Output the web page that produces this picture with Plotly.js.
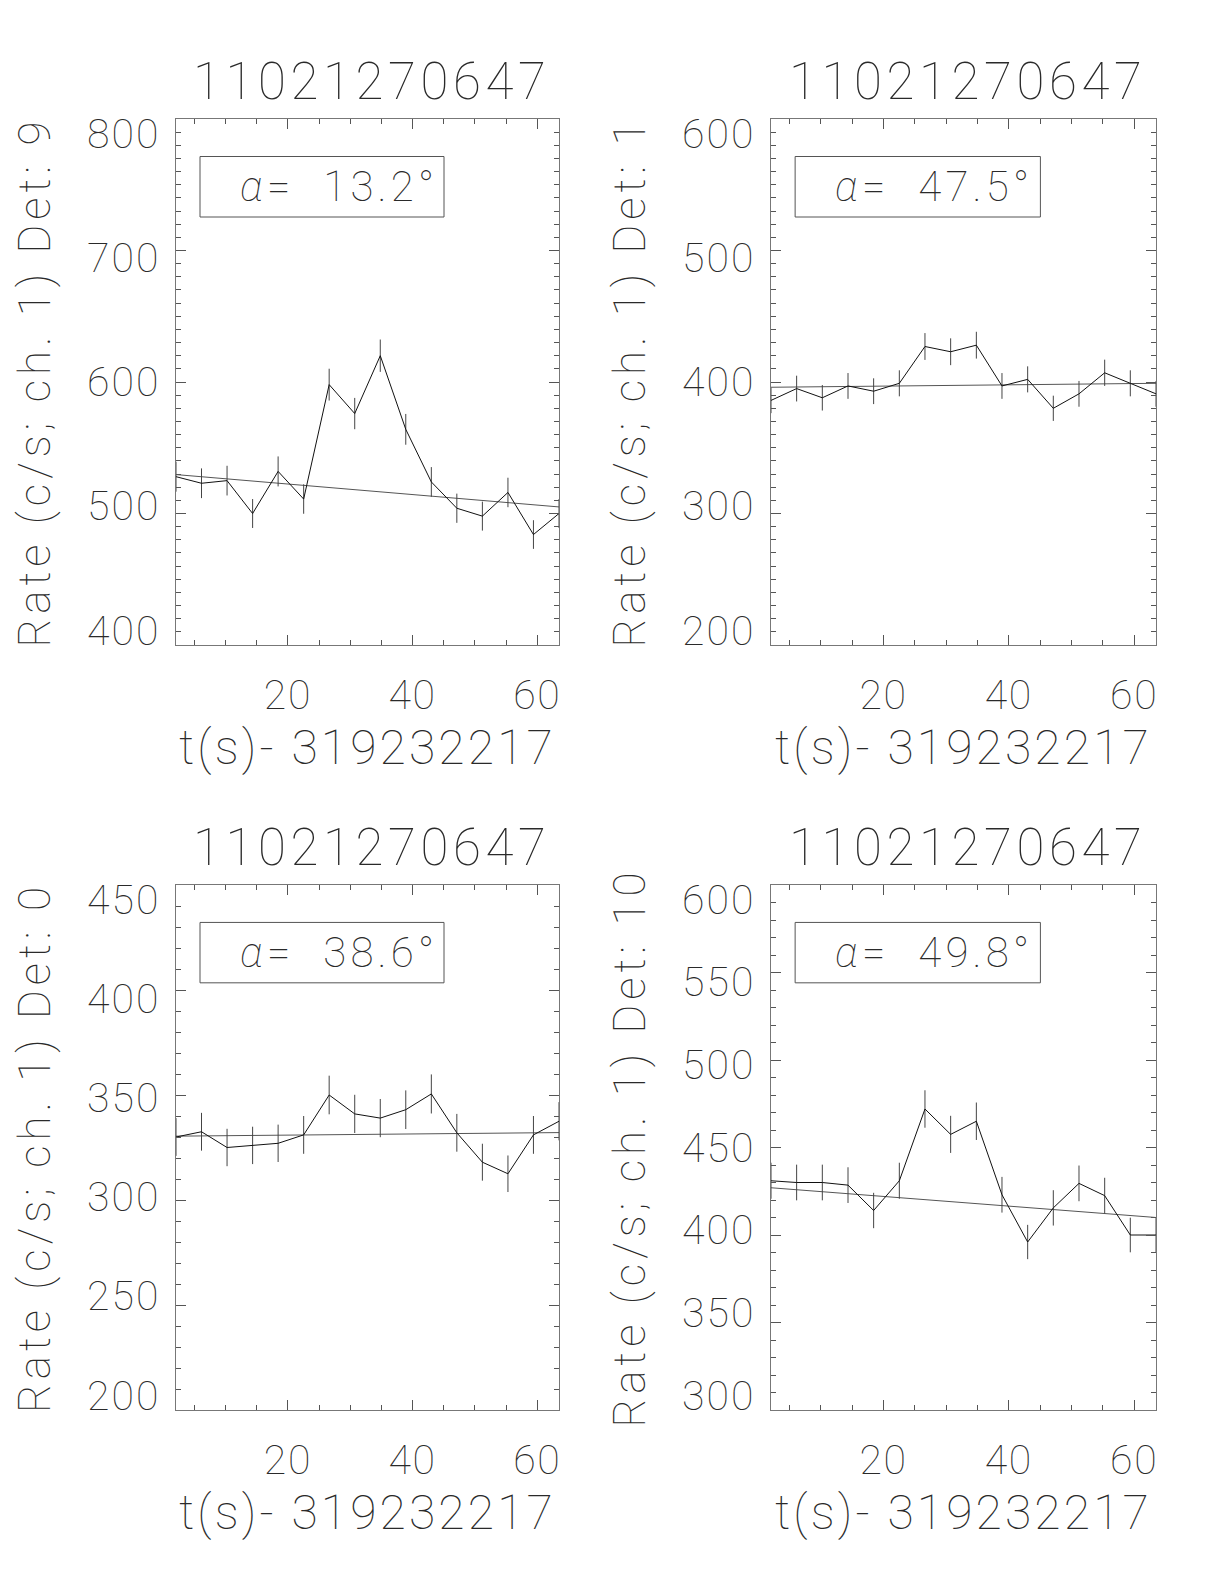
<!DOCTYPE html>
<html>
<head>
<meta charset="utf-8">
<script src="https://cdn.plot.ly/plotly-3.0.1.min.js"></script>
<style>html,body{margin:0;padding:0;background:#fff;}#chart{width:1224px;height:1584px;}</style>
</head>
<body>
<div id="chart"></div>
<script>
// ---- data ----
const t = [2.05, 6.14, 10.24, 14.34, 18.43, 22.53, 26.62, 30.72, 34.82, 38.91, 43.01, 47.10, 51.20, 55.30, 59.39, 63.49];

const det9  = [528, 523, 525, 500, 532, 511, 598, 576, 620, 564, 524, 504, 498, 516, 484, 500];
const err9  = [11.4, 11.3, 11.3, 11.0, 11.4, 11.2, 12.1, 11.9, 12.3, 11.7, 11.3, 11.1, 11.0, 11.2, 10.9, 11.0];
const fit9  = [529.6, 505];

const det1  = [386, 395, 388, 397, 393, 399, 427, 423, 428, 397, 402, 380, 391, 407, 399, 391];
const err1  = [9.7, 9.8, 9.7, 9.8, 9.8, 9.9, 10.2, 10.2, 10.2, 9.8, 9.9, 9.6, 9.8, 10.0, 9.9, 9.8];
const fit1  = [396, 399];

const det0  = [330, 332.5, 325, 326, 327, 331, 350, 341, 339, 343, 350.5, 332, 318, 312.5, 331, 337.5];
const err0  = [9.0, 9.0, 8.9, 8.9, 8.9, 9.0, 9.2, 9.1, 9.1, 9.2, 9.3, 9.0, 8.8, 8.7, 9.0, 9.1];
const fit0  = [330.4, 332.1];

const det10 = [431, 430, 430, 428.5, 414, 431, 472, 457.5, 465, 423, 396, 415.5, 429.5, 422.5, 400, 400];
const err10 = [10.3, 10.2, 10.2, 10.2, 10.1, 10.3, 10.7, 10.6, 10.7, 10.2, 9.8, 10.1, 10.2, 10.2, 9.9, 9.9];
const fit10 = [427, 410];

const detLabels = ['9', '1', '0', '10'];
const alphas    = ['13.2', '47.5', '38.6', '49.8'];
const yTicks9   = [400, 500, 600, 700, 800];
const yTicks1   = [200, 300, 400, 500, 600];
const yTicks0   = [200, 250, 300, 350, 400, 450];
const yTicks10  = [300, 350, 400, 450, 500, 550, 600];
const xTickVals = [20, 40, 60];
const burstId   = '11021270647';
const xTitle    = 't(s)- 319232217';

// ---- styling / layout ----
const FONT = 'Roboto';
const WT = 100;
const TXT = '#2a2a2a';
const W = 1224, H = 1584;
const ls = (s, em) => '<span style="letter-spacing:' + em + 'em">' + s + '</span>';
const boxes = [ // pixel boxes of plot areas [left, right, top, bottom]
  [176, 559, 119, 645],
  [771, 1156, 119, 645],
  [176, 559, 885, 1410],
  [771, 1156, 885, 1410]
];
const series = [[det9, err9, fit9, yTicks9], [det1, err1, fit1, yTicks1],
                [det0, err0, fit0, yTicks0], [det10, err10, fit10, yTicks10]];

const data = [];
const layout = {
  width: W, height: H,
  margin: {l: 0, r: 0, t: 0, b: 0},
  paper_bgcolor: '#fff', plot_bgcolor: '#fff',
  showlegend: false,
  annotations: [], shapes: []
};

series.forEach((s, i) => {
  const n = i === 0 ? '' : String(i + 1);
  const xa = 'x' + n, ya = 'y' + n;
  const b = boxes[i];
  const yt = s[3];
  const ymin = yt[0], ymax = yt[yt.length - 1];
  // fit line
  data.push({
    x: [t[0], t[t.length - 1]], y: s[2], xaxis: xa, yaxis: ya,
    mode: 'lines', line: {color: '#555', width: 1}, hoverinfo: 'skip'
  });
  // data line with error bars
  data.push({
    x: t, y: s[0], xaxis: xa, yaxis: ya, mode: 'lines',
    line: {color: '#111', width: 1},
    error_y: {type: 'data', array: s[1], visible: true, width: 0, thickness: 1, color: '#444'}
  });
  layout['xaxis' + n] = {
    domain: [b[0] / W, b[1] / W], anchor: ya,
    range: [t[0], t[t.length - 1]],
    tickmode: 'array', tickvals: xTickVals, ticktext: xTickVals.map(v => ls(String(v), 0.04)),
    ticks: 'inside', ticklen: 10, tickcolor: '#555', tickwidth: 1,
    minor: {dtick: 5, tick0: 0, ticks: 'inside', ticklen: 5, tickcolor: '#555', tickwidth: 1},
    showline: true, linecolor: '#777', linewidth: 1, mirror: 'ticks',
    showgrid: false, zeroline: false,
    tickfont: {family: FONT, size: 41, color: TXT, weight: WT}, ticklabelstandoff: 14,
    title: {text: ls(xTitle, 0.065), font: {family: FONT, size: 48, color: TXT, weight: WT}, standoff: 2}
  };
  layout['yaxis' + n] = {
    domain: [1 - b[3] / H, 1 - b[2] / H], anchor: xa,
    range: [ymin, ymax], tickmode: 'array', tickvals: yt,
    showticklabels: false,
    ticks: 'inside', ticklen: 10, tickcolor: '#555', tickwidth: 1,
    minor: {dtick: 10, tick0: 0, ticks: 'inside', ticklen: 5, tickcolor: '#555', tickwidth: 1},
    showline: true, linecolor: '#777', linewidth: 1, mirror: 'ticks',
    showgrid: false, zeroline: false,
    title: {text: ls('Rate (c/s; ch. 1) Det: ' + detLabels[i], 0.112), font: {family: FONT, size: 44, color: TXT, weight: WT}, standoff: 110}
  };
  // y tick labels (IDL style: edge labels kept inside the axis span)
  yt.forEach(v => {
    layout.annotations.push({
      xref: xa + ' domain', yref: ya, x: 0, y: v,
      xanchor: 'right', yanchor: 'middle', xshift: -14,
      yshift: 14.5 - 29 * (v - ymin) / (ymax - ymin),
      showarrow: false, text: ls(String(v), 0.05),
      font: {family: FONT, size: 41, color: TXT, weight: WT}
    });
  });
  // panel title
  layout.annotations.push({
    xref: 'paper', yref: 'paper', x: (b[0] + b[1]) / 2 / W, y: 1 - (b[2] - 38) / H,
    xanchor: 'center', yanchor: 'middle', showarrow: false, xshift: 4,
    text: ls(burstId, 0.09), font: {family: FONT, size: 51, color: TXT, weight: WT}
  });
  // alpha box
  layout.shapes.push({
    type: 'rect', xref: xa + ' domain', yref: ya + ' domain',
    x0: 24 / 383, x1: 268 / 383, y0: 1 - 98 / 526, y1: 1 - 37.5 / 526,
    line: {color: '#555', width: 1}, fillcolor: 'rgba(0,0,0,0)'
  });
  layout.annotations.push({
    xref: xa + ' domain', yref: ya + ' domain', x: 62 / 383, y: 1 - 67.5 / 526,
    xanchor: 'left', yanchor: 'middle', showarrow: false,
    text: ls('<span style="font-style:italic">\u03b1</span>=\u00a0 ' + alphas[i] + '\u00b0', 0.1),
    font: {family: FONT, size: 42, color: TXT, weight: WT}
  });
});

Plotly.newPlot('chart', data, layout, {displayModeBar: false, staticPlot: true});
</script>
</body>
</html>
